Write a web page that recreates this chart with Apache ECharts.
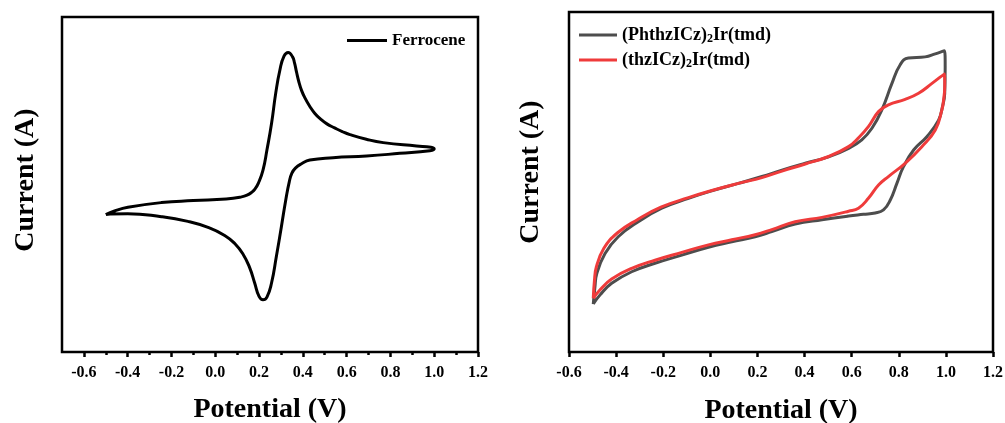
<!DOCTYPE html>
<html>
<head>
<meta charset="utf-8">
<title>Cyclic voltammograms</title>
<script src="https://cdn.jsdelivr.net/npm/echarts@6/dist/echarts.min.js"></script>
<style>
  html, body { margin: 0; padding: 0; background: #fff; }
  #chart { width: 1005px; height: 423px; }
</style>
</head>
<body>
<div id="chart"></div>
<script>
// Potential (V) vs. relative current; each loop starts at -0.5 V,
// runs the anodic sweep to 1.0 V and returns on the cathodic sweep.
const ferrocene = [
  [-0.500, 41.0], [-0.460, 42.1], [-0.399, 43.2], [-0.246, 44.6], [-0.100, 45.2],
  [0.050, 45.7], [0.120, 46.3], [0.145, 46.8], [0.165, 47.6], [0.182, 48.7],
  [0.197, 50.4], [0.218, 54.3], [0.236, 60.3], [0.257, 68.2], [0.276, 77.2],
  [0.295, 84.1], [0.314, 88.3], [0.333, 89.4], [0.353, 88.1], [0.362, 86.3],
  [0.371, 83.6], [0.382, 80.6], [0.394, 78.1], [0.410, 75.8], [0.432, 73.3],
  [0.455, 71.2], [0.480, 69.6], [0.510, 68.1], [0.545, 66.9], [0.580, 65.8],
  [0.615, 64.9], [0.690, 63.5], [0.767, 62.5], [0.919, 61.5], [0.985, 61.1],
  [1.000, 60.6],
  [0.980, 60.1], [0.843, 59.3], [0.691, 58.5], [0.538, 58.0], [0.432, 57.3],
  [0.394, 56.2], [0.366, 54.9], [0.350, 53.4], [0.338, 50.8], [0.322, 45.4],
  [0.302, 37.4], [0.279, 28.5], [0.257, 20.6], [0.236, 16.4], [0.218, 15.6],
  [0.200, 16.6], [0.180, 20.6], [0.157, 25.2], [0.127, 29.2], [0.089, 32.4],
  [0.043, 34.8], [-0.033, 37.2], [-0.125, 39.0], [-0.246, 40.4], [-0.400, 41.3],
  [-0.480, 41.2], [-0.500, 41.0]
];

const phthzICzIr = [
  [-0.497, 14.1], [-0.490, 19.0], [-0.482, 23.1], [-0.447, 29.0], [-0.391, 33.9],
  [-0.306, 38.3], [-0.206, 42.3], [-0.093, 45.2], [0.006, 47.4], [0.119, 49.6],
  [0.219, 51.6], [0.304, 53.5], [0.403, 55.5], [0.502, 57.4], [0.587, 59.9],
  [0.643, 62.4], [0.686, 65.8], [0.728, 71.2], [0.771, 79.0], [0.806, 84.5],
  [0.841, 86.5], [0.912, 86.8], [0.955, 87.7], [0.994, 88.6],
  [0.997, 84.0], [0.995, 76.0], [0.985, 72.0], [0.969, 68.2], [0.920, 63.4],
  [0.863, 59.4], [0.820, 54.5], [0.792, 49.6], [0.764, 44.7], [0.735, 41.8],
  [0.700, 40.9], [0.650, 40.5], [0.587, 40.0], [0.474, 38.9], [0.360, 37.6],
  [0.261, 35.4], [0.190, 33.9], [0.091, 32.4], [-0.008, 30.8], [-0.121, 28.5],
  [-0.235, 26.1], [-0.334, 23.6], [-0.419, 20.2], [-0.468, 16.8], [-0.497, 14.1]
];

const thzICzIr = [
  [-0.497, 15.8], [-0.492, 21.0], [-0.484, 25.0], [-0.452, 30.5], [-0.395, 35.0],
  [-0.310, 38.9], [-0.210, 42.6], [-0.093, 45.4], [0.006, 47.5], [0.119, 49.6],
  [0.219, 51.3], [0.304, 53.2], [0.403, 55.3], [0.502, 57.5], [0.587, 60.4],
  [0.629, 63.0], [0.671, 66.3], [0.714, 70.7], [0.756, 72.7], [0.827, 74.3],
  [0.884, 76.1], [0.941, 79.0], [0.994, 81.8],
  [0.995, 78.0], [0.990, 74.0], [0.983, 71.2], [0.955, 65.3], [0.898, 60.4],
  [0.827, 55.5], [0.756, 51.6], [0.714, 49.1], [0.671, 45.2], [0.629, 42.3],
  [0.587, 41.4], [0.474, 39.6], [0.360, 38.3], [0.261, 36.0], [0.190, 34.5],
  [0.091, 33.0], [-0.008, 31.5], [-0.121, 29.3], [-0.235, 27.0], [-0.334, 24.6],
  [-0.419, 21.5], [-0.468, 18.3], [-0.497, 15.8]
];

// Tick positions along the potential axes
const majorTicks = [-0.6, -0.4, -0.2, 0.0, 0.2, 0.4, 0.6, 0.8, 1.0, 1.2];
const minorTicks = [-0.5, -0.3, -0.1, 0.1, 0.3, 0.5, 0.7, 0.9, 1.1];

const seriesNames = ['Ferrocene', '(PhthzICz)2Ir(tmd)', '(thzICz)2Ir(tmd)'];

const FONT = '"Liberation Serif", "Times New Roman", serif';

const chart = echarts.init(document.getElementById('chart'), null, { renderer: 'canvas' });

const labelStyle = {
  fontFamily: FONT, fontWeight: 'bold', fontSize: 16, color: '#000', margin: 13,
  formatter: v => Number(v).toFixed(1)
};
const nameStyle = { fontFamily: FONT, fontWeight: 'bold', fontSize: 28, color: '#000' };

function yAxisFor(grid, gap, lift) {
  return {
    type: 'value', gridIndex: grid, min: 0, max: 100,
    axisLine: { show: false }, axisTick: { show: false },
    axisLabel: { show: false }, splitLine: { show: false },
    name: 'Current (A)', nameLocation: 'middle', nameGap: gap,
    nameTextStyle: Object.assign({}, nameStyle, { padding: [0, 0, 0, lift] })
  };
}

chart.setOption({
  animation: false,
  backgroundColor: '#fff',
  grid: [
    { left: 62, top: 17, width: 416, height: 335, outerBoundsMode: 'none', containLabel: false,
      show: true, borderColor: '#000', borderWidth: 2.5, backgroundColor: 'transparent' },
    { left: 569, top: 12, width: 424, height: 340, outerBoundsMode: 'none', containLabel: false,
      show: true, borderColor: '#000', borderWidth: 2.5, backgroundColor: 'transparent' }
  ],
  xAxis: [
    {
      type: 'value', gridIndex: 0, min: -0.7, max: 1.2, interval: 0.1,
      axisLine: { show: false },
      axisTick: { show: true, inside: false, length: 5, customValues: majorTicks, lineStyle: { color: '#000', width: 2.5 } },
      axisLabel: Object.assign({ customValues: majorTicks }, labelStyle),
      splitLine: { show: false },
      name: 'Potential (V)', nameLocation: 'middle', nameGap: 44, nameTextStyle: nameStyle
    },
    {
      type: 'value', gridIndex: 0, min: -0.7, max: 1.2, interval: 0.1, position: 'bottom',
      axisLine: { show: false },
      axisTick: { show: true, inside: false, length: 3, customValues: minorTicks, lineStyle: { color: '#000', width: 2.5 } },
      axisLabel: { show: false }, splitLine: { show: false }
    },
    {
      type: 'value', gridIndex: 1, min: -0.6, max: 1.2, interval: 0.2,
      axisLine: { show: false },
      axisTick: { show: true, inside: false, length: 5, lineStyle: { color: '#000', width: 2.5 } },
      axisLabel: labelStyle,
      splitLine: { show: false },
      name: 'Potential (V)', nameLocation: 'middle', nameGap: 45, nameTextStyle: nameStyle
    }
  ],
  yAxis: [yAxisFor(0, 22, 9), yAxisFor(1, 24, 20)],
  legend: [
    {
      data: [{ name: seriesNames[0], icon: 'rect' }], left: 347, top: 32, padding: 0,
      itemWidth: 40, itemHeight: 3,
      textStyle: { fontFamily: FONT, fontWeight: 'bold', fontSize: 17, color: '#000' }
    },
    {
      data: [{ name: seriesNames[1], icon: 'rect' }, { name: seriesNames[2], icon: 'rect' }],
      orient: 'vertical', left: 579, top: 26, padding: 0,
      itemWidth: 38, itemHeight: 3, itemGap: 6,
      formatter: name => '{n|' + name.replace(')2', ')}{s|2}{n|') + '}',
      textStyle: {
        fontFamily: FONT, fontWeight: 'bold', fontSize: 18, color: '#000',
        rich: {
          n: { fontFamily: FONT, fontWeight: 'bold', fontSize: 18, color: '#000' },
          s: { fontFamily: FONT, fontWeight: 'bold', fontSize: 12, color: '#000', padding: [8, 0, 0, 0] }
        }
      }
    }
  ],
  series: [
    {
      name: seriesNames[0], type: 'line', xAxisIndex: 0, yAxisIndex: 0,
      data: ferrocene, symbol: 'none', smooth: 0.5,
      lineStyle: { color: '#000', width: 3 }, itemStyle: { color: '#000' }
    },
    {
      name: seriesNames[1], type: 'line', xAxisIndex: 2, yAxisIndex: 1,
      data: phthzICzIr, symbol: 'none', smooth: 0.45,
      lineStyle: { color: '#4d4d4d', width: 3 }, itemStyle: { color: '#4d4d4d' }
    },
    {
      name: seriesNames[2], type: 'line', xAxisIndex: 2, yAxisIndex: 1,
      data: thzICzIr, symbol: 'none', smooth: 0.45,
      lineStyle: { color: '#ef3b3b', width: 3 }, itemStyle: { color: '#ef3b3b' }
    }
  ]
});
</script>
</body>
</html>
